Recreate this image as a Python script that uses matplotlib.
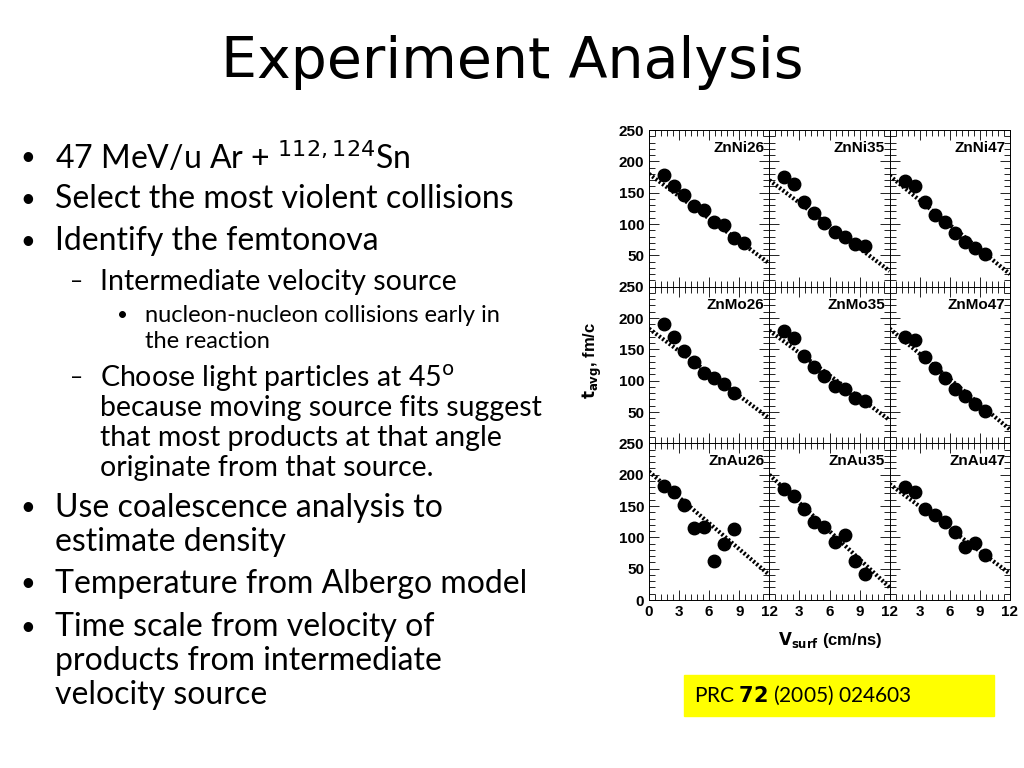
import matplotlib.pyplot as plt
from matplotlib.ticker import MultipleLocator

plt.rcParams['font.family'] = 'Liberation Sans'

# panel names, row by row
panels = ['ZnNi26', 'ZnNi35', 'ZnNi47',
          'ZnMo26', 'ZnMo35', 'ZnMo47',
          'ZnAu26', 'ZnAu35', 'ZnAu47']

v9 = [1.5, 2.5, 3.5, 4.5, 5.5, 6.5, 7.5, 8.5, 9.5]
v8 = v9[:8]

v_surf = [v9, v9, v9, v8, v9, v9, v8, v9, v9]
t_avg = [
    [178, 160, 147, 128, 122, 103, 98, 78, 70],
    [175, 164, 135, 118, 102, 87, 79, 68, 65],
    [168, 160, 135, 115, 103, 86, 72, 62, 52],
    [190, 170, 148, 130, 112, 105, 95, 80],
    [180, 168, 140, 122, 107, 92, 87, 72, 68],
    [170, 165, 138, 120, 104, 86, 75, 62, 52],
    [182, 172, 152, 115, 117, 62, 90, 113],
    [177, 166, 145, 125, 116, 93, 104, 62, 41],
    [180, 172, 145, 136, 124, 109, 85, 91, 72],
]
# fit line end points (t at v=0, t at v=12)
fit_start = [180, 170, 177, 183, 180, 183, 205, 200, 185]
fit_end = [37, 25, 20, 40, 37, 22, 40, 20, 42]
fit_v = [0, 12]

# (level, pixel y of line centre, text); bullet only on the first line of an item
lines = [
    (0, 158, '47 MeV/u Ar + $^{112,124}$Sn', True),
    (0, 199, 'Select the most violent collisions', True),
    (0, 241, 'Identify the femtonova', True),
    (1, 282, 'Intermediate velocity source', True),
    (2, 316, 'nucleon-nucleon collisions early in', True),
    (2, 342, 'the reaction', False),
    (1, 378, 'Choose light particles at 45$^{\\mathrm{o}}$', True),
    (1, 408, 'because moving source fits suggest', False),
    (1, 438, 'that most products at that angle', False),
    (1, 468, 'originate from that source.', False),
    (0, 508, 'Use coalescence analysis to', True),
    (0, 542, 'estimate density', False),
    (0, 584, 'Temperature from Albergo model', True),
    (0, 627, 'Time scale from velocity of', True),
    (0, 661, 'products from intermediate', False),
    (0, 695, 'velocity source', False),
]

fig = plt.figure(figsize=(10.24, 7.68), dpi=100)
fig.text(512/1024, 1 - 62/768, 'Experiment Analysis', ha='center', va='center',
         fontsize=41, family='DejaVu Sans')

styles = {0: (20, 55, 23, '•'),
          1: (70, 100, 20.5, '–'),
          2: (117, 145, 17, '•')}
for lvl, y, txt, first in lines:
    bx, tx, fs, sym = styles[lvl]
    if first:
        fig.text(bx / 1024, 1 - y / 768, sym, fontsize=fs * 0.8, va='center',
                 family='Lato')
    fig.text(tx / 1024, 1 - y / 768, txt, fontsize=fs, va='center',
             family='Lato')

axes = fig.subplots(3, 3, gridspec_kw=dict(left=649/1024, right=1010/1024,
                                           bottom=1-600/768, top=1-130/768,
                                           wspace=0, hspace=0))
for i, ax in enumerate(axes.flat):
    r, c = divmod(i, 3)
    ax.plot(v_surf[i], t_avg[i], 'o', color='black', ms=9)
    ax.plot(fit_v, [fit_start[i], fit_end[i]], color='black', lw=3,
            linestyle=(0, (0.5, 0.5)))
    ax.set_xlim(0, 12)
    ax.set_ylim(0, 250)
    ax.xaxis.set_minor_locator(MultipleLocator(0.6))
    ax.yaxis.set_minor_locator(MultipleLocator(10))
    ax.set_xticks([0, 3, 6, 9, 12])
    ax.set_xticklabels(['' if c > 0 else '0', '3', '6', '9', '12'],
                       fontweight='bold')
    ax.set_yticks([0, 50, 100, 150, 200, 250])
    ax.set_yticklabels(['' if r < 2 else '0', '50', '100', '150', '200', '250'],
                       fontweight='bold')
    ax.tick_params(which='both', direction='in', top=True, right=True,
                   labelsize=11, width=0.6,
                   labelleft=(c == 0), labelbottom=(r == 2))
    ax.tick_params(which='major', length=7)
    ax.tick_params(which='minor', length=4)
    for s in ax.spines.values():
        s.set_linewidth(0.7)
    ax.text(0.96, 0.93, panels[i], transform=ax.transAxes, ha='right',
            va='top', fontsize=11, fontweight='bold')

fig.text(592/1024, 1 - 360/768, r'$\mathbf{t_{avg}}$, fm/c', rotation=90,
         ha='center', va='center', fontsize=12, fontweight='bold')
fig.text(830/1024, 1 - 640/768, r'$\mathbf{V_{surf}}$ (cm/ns)',
         ha='center', va='center', fontsize=12, fontweight='bold')

fig.patches.append(plt.Rectangle((684/1024, 1-716/768), 310/1024, 41/768,
                                 transform=fig.transFigure, color='#ffff00',
                                 zorder=-1))
fig.text(694/1024, 1 - 695/768, r'PRC $\mathbf{72}$ (2005) 024603',
         fontsize=15, va='center', family='Lato')

fig.savefig('out.png', dpi=100)
